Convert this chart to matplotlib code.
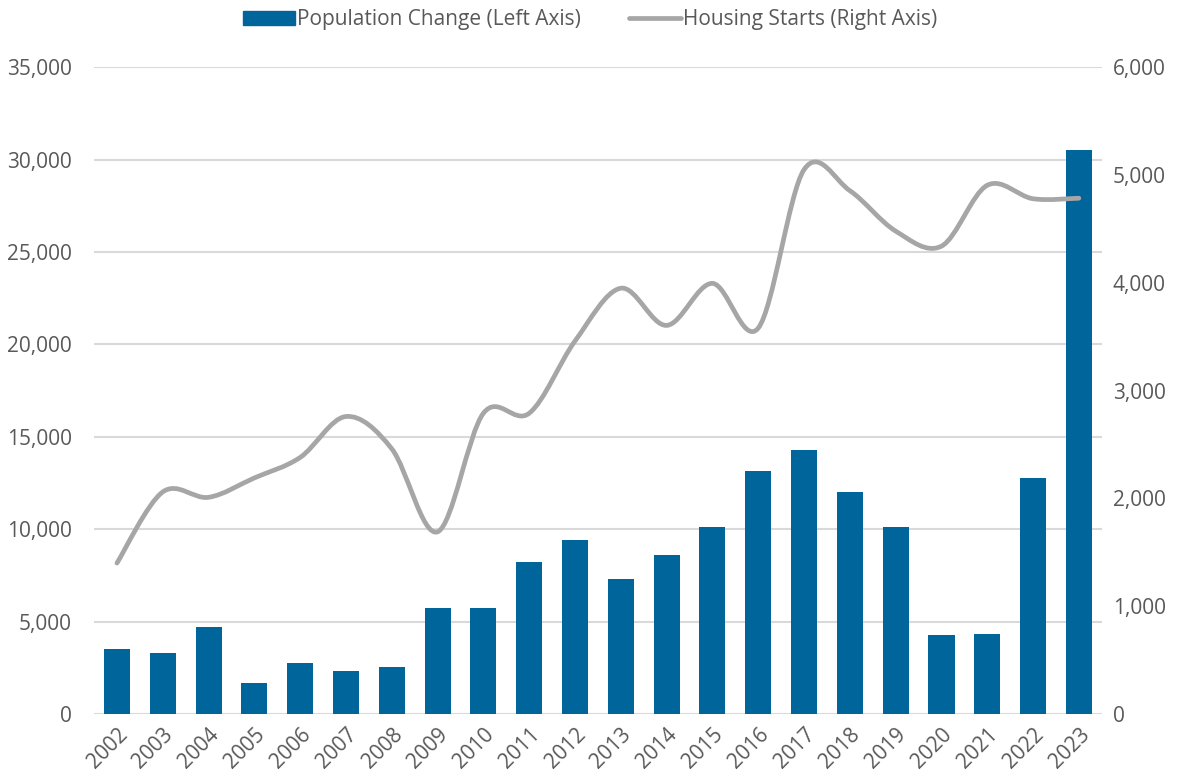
import numpy as np
import matplotlib; matplotlib.use('Agg')
import matplotlib.pyplot as plt
from matplotlib.path import Path
from matplotlib.patches import PathPatch, Patch
from matplotlib.lines import Line2D
from matplotlib.ticker import FuncFormatter, MultipleLocator

plt.rcParams.update({'font.family': ['Open Sans', 'DejaVu Sans'], 'font.size': 15})

years = [str(y) for y in range(2002, 2024)]
pop_change = [3500, 3300, 4700, 1650, 2750, 2300, 2550, 5750, 5750, 8200, 9400,
              7300, 8600, 10100, 13150, 14300, 12000, 10100, 4300, 4350, 12750, 30500]
housing_starts = [1400, 2060, 2010, 2190, 2380, 2760, 2460, 1690, 2790, 2790, 3460,
                  3950, 3605, 3995, 3580, 5050, 4855, 4480, 4340, 4905, 4780, 4785]

BLUE = '#00659B'
GREY = '#A6A6A6'
TXT = '#595959'

fig = plt.figure(figsize=(11.8, 7.82), dpi=100)
ax = fig.add_axes([0.0797, 0.087, 0.854, 0.827])
x = np.arange(len(years))
ax.bar(x, pop_change, width=0.57, color=BLUE, zorder=2)
ax.set_xlim(-0.5, len(years) - 0.5)
ax.set_ylim(0, 35000)
ax.yaxis.set_major_locator(MultipleLocator(5000))
ax.yaxis.set_major_formatter(FuncFormatter(lambda v, p: f'{v:,.0f}'))
ax.grid(axis='y', color='#D9D9D9', lw=1.5, zorder=0)
ax.set_axisbelow(True)
ax.set_xticks(x)
ax.set_xticklabels(years, rotation=45, ha='right', rotation_mode='anchor')
for s in ax.spines.values():
    s.set_visible(False)
ax.tick_params(length=0, colors=TXT, labelsize=15)
ax.tick_params(axis='y', pad=16)
ax.tick_params(axis='x', pad=7)

ax2 = ax.twinx()
ax2.set_ylim(0, 6000)
ax2.yaxis.set_major_locator(MultipleLocator(1000))
ax2.yaxis.set_major_formatter(FuncFormatter(lambda v, p: f'{v:,.0f}'))
for s in ax2.spines.values():
    s.set_visible(False)
ax2.tick_params(length=0, colors=TXT, labelsize=15, pad=8)

# smoothed line (Catmull-Rom style cubic Bezier through the data points)
P = np.column_stack([x, housing_starts]).astype(float)
verts = [P[0]]
codes = [Path.MOVETO]
n = len(P)
for i in range(n - 1):
    p0 = P[max(i - 1, 0)]; p1 = P[i]; p2 = P[i + 1]; p3 = P[min(i + 2, n - 1)]
    verts += [p1 + (p2 - p0) / 6, p2 - (p3 - p1) / 6, p2]
    codes += [Path.CURVE4] * 3
ax2.add_patch(PathPatch(Path(verts, codes), fill=False, edgecolor=GREY, lw=3.4,
                        capstyle='round', joinstyle='round', zorder=3))

handles = [Patch(color=BLUE), Line2D([], [], color=GREY, lw=3.4, solid_capstyle='round')]
fig.legend(handles, ['Population Change (Left Axis)', 'Housing Starts (Right Axis)'],
           loc='upper center', bbox_to_anchor=(0.5, 1.012), ncol=2, frameon=False,
           fontsize=15, labelcolor=TXT, handlelength=2.5, handletextpad=0.1,
           columnspacing=2.3)

fig.savefig('out.png', dpi=100)
